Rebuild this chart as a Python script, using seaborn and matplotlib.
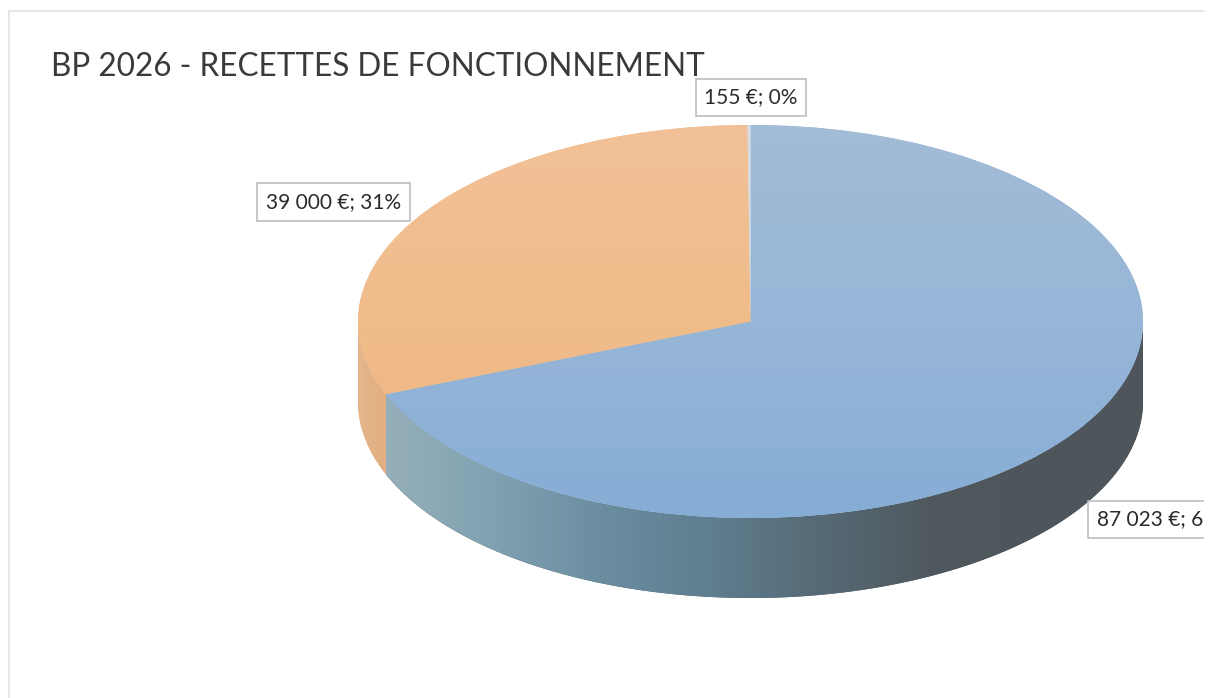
import numpy as np
import matplotlib
matplotlib.use("Agg")
import matplotlib.pyplot as plt
from matplotlib.colors import LinearSegmentedColormap
from matplotlib.patches import Polygon, Rectangle
from matplotlib.lines import Line2D
import seaborn as sns

title = "BP 2026 - RECETTES DE FONCTIONNEMENT"
amounts = [87023, 39000, 155]
labels = ["87 023 €; 6", "39 000 €; 31%", "155 €; 0%"]

W, H = 1210, 698
sns.set_theme(style="white")
plt.rcParams["font.family"] = ["Lato", "DejaVu Sans"]

fig = plt.figure(figsize=(W / 100, H / 100), dpi=100, facecolor="white")
ax = fig.add_axes([0, 0, 1, 1])

CX, CY, RX, RY = 750.5, 321.5, 392.5, 196.5
DEPTH = 80 / RY

top_colors = [["#A3BCD6", "#97B6D8", "#86ADD5"], ["#F2C197", "#F0BC8A", "#EEB582"], ["#D5DCE2", "#D5DCE2", "#D5DCE2"]]
wall_colors = [
    ["#95AFB9", "#7FA1B1", "#6A8DA0", "#5F7E8F", "#566A76", "#50595F", "#4E565B", "#4E565B"],
    ["#E5B68C", "#E1AF80"],
    ["#888888", "#888888"],
]

wedges, _ = ax.pie(amounts, startangle=90, counterclock=False, radius=1,
                   colors=sns.color_palette([c[1] for c in top_colors]),
                   wedgeprops={"linewidth": 0})
ax.set_aspect("auto")
xlim = (-CX / RX, (W - CX) / RX)
ylim = ((CY - H) / RY, CY / RY)

for w, tc, wc in zip(wedges, top_colors, wall_colors):
    w.set_zorder(3)
    # top surface with a soft vertical gradient, clipped on the wedge
    cm = LinearSegmentedColormap.from_list("t", tc)
    im = ax.imshow(np.linspace(0, 1, 256)[:, None], cmap=cm, extent=(-1, 1, -1, 1),
                   origin="upper", aspect="auto", zorder=4, interpolation="bilinear")
    im.set_clip_path(w)
    # visible part of the rim, derived from the wedge angles
    t1, t2 = w.theta1, w.theta2
    lo, hi = max(t1, -180), min(t2, 0)
    if hi <= lo:
        continue
    th = np.radians(np.linspace(lo, hi, 300))
    xs, ys = np.cos(th), np.sin(th)
    verts = np.r_[np.c_[xs, ys], np.c_[xs, ys - DEPTH][::-1]]
    poly = Polygon(verts, closed=True, facecolor=wc[-1], edgecolor="none", zorder=1)
    ax.add_patch(poly)
    cm = LinearSegmentedColormap.from_list("w", wc)
    im2 = ax.imshow(np.linspace(0, 1, 512)[None, :], cmap=cm,
                    extent=(xs.min(), xs.max(), ys.min() - DEPTH, ys.max()),
                    aspect="auto", zorder=2, interpolation="bilinear")
    im2.set_clip_path(poly)

ax.set_xlim(xlim)
ax.set_ylim(ylim)
ax.set_axis_off()


def fx(px):
    return px / W


def fy(py):
    return 1 - py / H


# chart-area frame (top and left edges only)
for xs, ys in (((8.5, 8.5), (11, 698)), ((8.5, 1204), (11, 11))):
    fig.add_artist(Line2D([fx(v) for v in xs], [fy(v) for v in ys], color="#E2E2E2", lw=1.2, zorder=1))

fig.text(fx(51), fy(76), title, fontsize=22.7, color="#3A3A3A", ha="left", va="baseline", zorder=10)

label_pos = [(1097, 519.5), (333.5, 202), (751, 97.5)]
aligns = ["left", "center", "center"]
for lab, (px, py), al in zip(labels, label_pos, aligns):
    fig.text(fx(px), fy(py), lab, fontsize=15, color="#2B2B2B", ha=al, va="center", zorder=10,
             bbox=dict(boxstyle="square,pad=0.42", facecolor="white", edgecolor="#BDBDBD", linewidth=1.2))

# the source picture is cut off at its right edge
fig.add_artist(Rectangle((fx(1204), 0), 1 - fx(1204), 1, transform=fig.transFigure,
                         facecolor="white", edgecolor="none", zorder=20))

fig.savefig("out.png", dpi=100, facecolor="white")
